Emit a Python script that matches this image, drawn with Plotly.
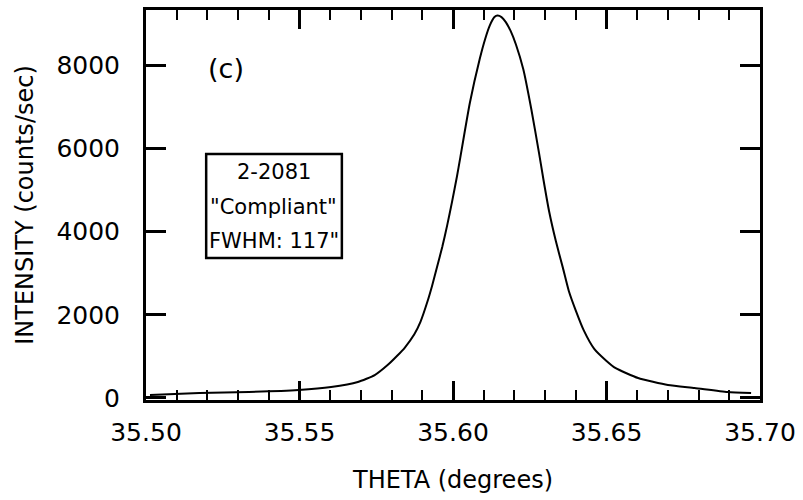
import plotly.graph_objects as go

theta = [35.5013, 35.5174, 35.5335, 35.5497, 35.5603, 35.5690, 35.5745, 35.5787,
         35.5819, 35.5842, 35.5874, 35.5894, 35.5916, 35.5932, 35.5948, 35.5965,
         35.5981, 35.5997, 35.6013, 35.6023, 35.6055, 35.6087, 35.6105, 35.6120,
         35.6135, 35.6145, 35.6158, 35.6172, 35.6188, 35.6205, 35.6229, 35.6255,
         35.6280, 35.6294, 35.6313, 35.6335, 35.6358, 35.6377, 35.6400, 35.6426,
         35.6460, 35.6500, 35.6530, 35.6603, 35.6700, 35.6787, 35.6894, 35.6971]
intensity = [72, 119, 143, 191, 263, 382, 549, 790,
             1020, 1200, 1530, 1830, 2300, 2700, 3150, 3630,
             4150, 4720, 5330, 5750, 7100, 8150, 8640, 8960,
             9160, 9195, 9160, 9040, 8820, 8500, 7905, 6949,
             5900, 5278, 4490, 3773, 3128, 2579, 2101, 1624,
             1180, 890, 716, 478, 310, 239, 143, 119]

x_ticks = [35.50, 35.55, 35.60, 35.65, 35.70]
x_tick_labels = ["35.50", "35.55", "35.60", "35.65", "35.70"]
y_ticks = [0, 2000, 4000, 6000, 8000]
y_tick_labels = ["0", "2000", "4000", "6000", "8000"]

panel_label = "(c)"
box_lines = ["2-2081", "\"Compliant\"", "FWHM: 117\""]

FONT = "DejaVu Sans, Verdana, sans-serif"

fig = go.Figure()
fig.add_trace(go.Scatter(x=theta, y=intensity, mode="lines",
                         line=dict(color="black", width=2, shape="spline", smoothing=0.5),
                         showlegend=False, hoverinfo="skip"))

annotations = [
    dict(text=panel_label, x=0.131, y=0.85, xref="paper", yref="paper",
         showarrow=False, font=dict(size=27, family=FONT, color="black"),
         xanchor="center", yanchor="middle"),
]
for txt, yy in zip(box_lines, [0.585, 0.496, 0.407]):
    annotations.append(dict(text=txt, x=0.208, y=yy, xref="paper", yref="paper",
                            showarrow=False, font=dict(size=21, family=FONT, color="black"),
                            xanchor="center", yanchor="middle"))

fig.update_layout(
    width=803, height=500,
    margin=dict(l=146, r=37, t=7, b=100),
    paper_bgcolor="white", plot_bgcolor="white",
    font=dict(family=FONT, size=24, color="black"),
    annotations=annotations,
    shapes=[dict(type="rect", xref="paper", yref="paper",
                 x0=0.098, x1=0.319, y0=0.364, y1=0.631,
                 line=dict(color="black", width=2.5), fillcolor="rgba(0,0,0,0)")],
)

fig.update_xaxes(
    range=[35.50, 35.70], tickvals=x_ticks, ticktext=x_tick_labels,
    showgrid=False, zeroline=False,
    showline=True, linecolor="black", linewidth=3, mirror="allticks",
    ticks="inside", ticklen=19, tickwidth=2.5, tickcolor="black",
    minor=dict(dtick=0.01, ticks="inside", ticklen=10, tickwidth=2, tickcolor="black", showgrid=False),
    tickfont=dict(size=25, family=FONT), ticklabelstandoff=8,
    title=dict(text="THETA (degrees)", font=dict(size=24, family=FONT), standoff=26),
)
fig.update_yaxes(
    range=[-50, 9330], tickvals=y_ticks, ticktext=y_tick_labels,
    showgrid=False, zeroline=False,
    showline=True, linecolor="black", linewidth=3, mirror="allticks",
    ticks="inside", ticklen=20, tickwidth=2.5, tickcolor="black",
    tickfont=dict(size=25, family=FONT), ticklabelstandoff=18,
    title=dict(text="INTENSITY (counts/sec)", font=dict(size=24, family=FONT), standoff=16),
)

fig.write_html("out.html")
